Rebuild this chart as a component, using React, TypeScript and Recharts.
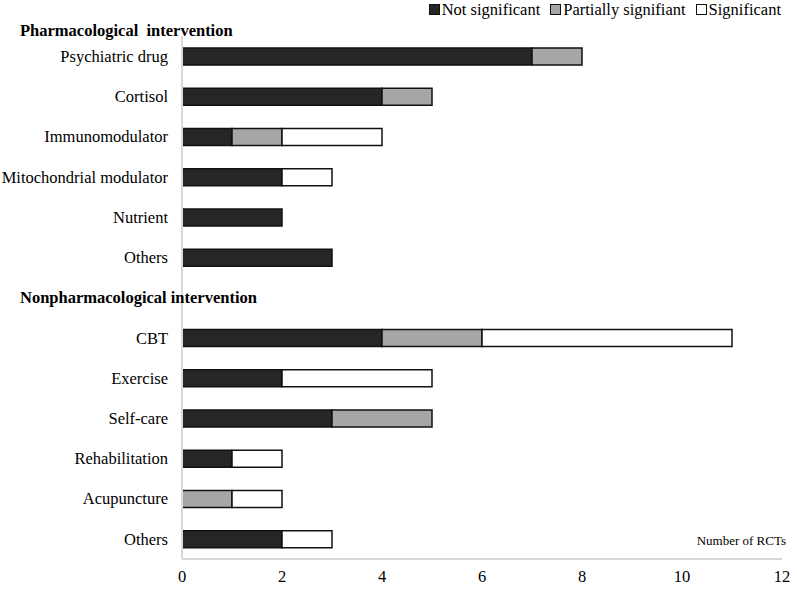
import { Bar, BarChart, Label, XAxis, YAxis } from "recharts";

const headers = ["Pharmacological  intervention", "Nonpharmacological intervention"];

const categories = [
  "Psychiatric drug",
  "Cortisol",
  "Immunomodulator",
  "Mitochondrial modulator",
  "Nutrient",
  "Others",
  "",
  "CBT",
  "Exercise",
  "Self-care",
  "Rehabilitation",
  "Acupuncture",
  "Others",
];

const notSignificant = [7, 4, 1, 2, 2, 3, null, 4, 2, 3, 1, 0, 2];
const partiallySignificant = [1, 1, 1, 0, 0, 0, null, 2, 0, 2, 0, 1, 0];
const significant = [0, 0, 2, 1, 0, 0, null, 5, 3, 0, 1, 1, 1];

const xTicks = [0, 2, 4, 6, 8, 10, 12];

const data = categories.map((name, i) => ({
  key: `row${i}`,
  name,
  ns: notSignificant[i],
  ps: partiallySignificant[i],
  s: significant[i],
}));

const series = [
  { key: "ns", label: "Not significant", fill: "#262626" },
  { key: "ps", label: "Partially signifiant", fill: "#a6a6a6" },
  { key: "s", label: "Significant", fill: "#ffffff" },
];

const font = "'Liberation Serif', 'Times New Roman', serif";
const fs = 16.5;

function CategoryTick(props: any) {
  const { x, y, payload, index } = props;
  const row = data[index];
  return (
    <g>
      {index === 0 && (
        <text
          x={20}
          y={y - 26}
          dy="0.35em"
          fontWeight="bold"
          fontSize={fs}
          fill="#000"
          fontFamily={font}
          style={{ whiteSpace: "pre" }}
        >
          {headers[0]}
        </text>
      )}
      {row && row.name === "" ? (
        <text x={20} y={y} dy="0.35em" fontWeight="bold" fontSize={fs} fill="#000" fontFamily={font}>
          {headers[1]}
        </text>
      ) : (
        <text x={x - 6} y={y} dy="0.35em" textAnchor="end" fontSize={fs} fill="#000" fontFamily={font}>
          {row ? row.name : payload.value}
        </text>
      )}
    </g>
  );
}

function LegendRow() {
  return (
    <div
      style={{
        position: "absolute",
        top: 0,
        right: 16,
        display: "flex",
        gap: 10,
        fontFamily: font,
        fontSize: fs,
        lineHeight: "19px",
        color: "#000",
      }}
    >
      {series.map((s) => (
        <span key={s.key} style={{ display: "flex", alignItems: "center" }}>
          <span
            style={{
              display: "inline-block",
              width: 9,
              height: 9,
              background: s.fill,
              border: "1.5px solid #111",
              marginRight: 2,
            }}
          />
          {s.label}
        </span>
      ))}
    </div>
  );
}

export default function App() {
  return (
    <div style={{ position: "absolute", left: 0, top: 0, width: 797, height: 589, background: "#fff" }}>
      <BarChart
        width={797}
        height={589}
        data={data}
        layout="vertical"
        margin={{ top: 36, right: 15, bottom: 0, left: 0 }}
      >
        <XAxis
          type="number"
          domain={[0, 12]}
          ticks={xTicks}
          tickLine={false}
          axisLine={{ stroke: "#d9d9d9", strokeWidth: 2 }}
          tick={{ fontSize: fs, fill: "#000", fontFamily: font }}
          tickMargin={5}
          height={30}
        >
          <Label
            content={(p: any) => {
              const vb = p.viewBox;
              return (
                <text
                  x={vb.x + vb.width + 4}
                  y={vb.y - 19}
                  dy="0.35em"
                  textAnchor="end"
                  fontSize={13}
                  fill="#000"
                  fontFamily={font}
                >
                  Number of RCTs
                </text>
              );
            }}
          />
        </XAxis>
        <YAxis
          type="category"
          dataKey="key"
          width={182}
          tickLine={false}
          axisLine={{ stroke: "#d9d9d9", strokeWidth: 2 }}
          tick={<CategoryTick />}
          interval={0}
        />
        {series.map((s) => (
          <Bar
            key={s.key}
            dataKey={s.key}
            stackId="a"
            fill={s.fill}
            stroke="#111"
            strokeWidth={1.5}
            barSize={17}
            isAnimationActive={false}
          />
        ))}
      </BarChart>
      <LegendRow />
    </div>
  );
}
